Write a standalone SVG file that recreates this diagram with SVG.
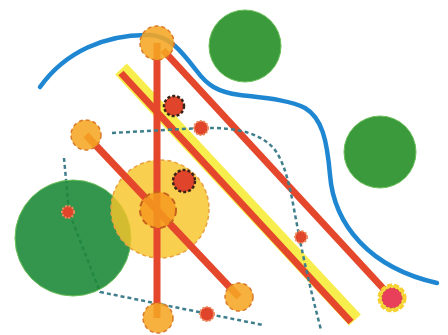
<svg xmlns="http://www.w3.org/2000/svg" width="448" height="335" viewBox="0 0 448 335">
<style>
.green{fill:#3a9a3c;stroke:#6cc05a;stroke-width:1}
.blue{fill:none;stroke:#1f87d2;stroke-width:4.5;stroke-linecap:round}
.dot{fill:none;stroke:#3f7f8c;stroke-width:2.5;stroke-dasharray:4 3}
.red{stroke:#e4472b;stroke-width:7;fill:none}
.halo{stroke:#f6ec3a;stroke-width:16;fill:none;opacity:0.9}
.node{fill:#f5a623;fill-opacity:0.88;stroke:#d9792a;stroke-width:1.5;stroke-dasharray:4 3}
.hub{fill:#f59a1f;fill-opacity:0.85;stroke:#c8601e;stroke-width:2;stroke-dasharray:6 4}
.dark{fill:#e0442a;stroke:#3a2418;stroke-width:2.5;stroke-dasharray:3 2}
.small{fill:#e0442a;stroke:#ec8a5c;stroke-width:2;stroke-dasharray:2 1.5}
</style>
<rect width="448" height="335" fill="#ffffff"/>
<g id="green-top"><circle class="green" cx="245" cy="46" r="36"/></g>
<g id="green-right"><circle class="green" cx="380" cy="152" r="36"/></g>
<g id="connectors">
<path class="blue" d="M40,87 C65,52 105,34 150,35 C170,36 182,52 196,70 C207,85 217,92 240,95 C265,98 290,100 305,108 C322,118 327,140 330,175 C334,225 370,268 437,283"/>
<path class="dot" d="M64,158 L69,212 L100,292 L263,325"/>
</g>
<g id="green-big"><circle cx="73" cy="238" r="58" fill="#1e8a3a" fill-opacity="0.9" stroke="#6cc05a" stroke-width="1"/></g>
<g id="yellow-area"><circle cx="160" cy="209" r="49" fill="#f8c52a" fill-opacity="0.82" stroke="#e8a040" stroke-width="1.5" stroke-dasharray="4 3"/></g>
<g id="lines">
<line class="halo" x1="121" y1="69" x2="355" y2="320"/>
<line class="red" x1="121" y1="73" x2="351" y2="322"/>
<line class="red" x1="157" y1="43" x2="157" y2="318"/>
<line class="red" x1="86" y1="135" x2="239" y2="297"/>
<line class="red" x1="163" y1="50" x2="392" y2="298"/>
<path class="dot" d="M112,133 L200,128 C240,127 262,134 275,150 C288,168 292,200 298,230 C304,262 312,295 321,330"/>
</g>
<g id="node-top"><circle class="node" cx="157" cy="43" r="17"/></g>
<g id="node-left"><circle class="node" cx="86" cy="135" r="15"/></g>
<g id="node-center"><circle class="hub" cx="158" cy="210" r="18"/></g>
<g id="node-bottom"><circle class="node" cx="158" cy="318" r="15"/></g>
<g id="node-small"><circle class="node" cx="239" cy="297" r="14"/></g>
<g id="dot-a"><circle class="dark" cx="174" cy="106" r="10"/></g>
<g id="dot-b"><circle class="dark" cx="184" cy="181" r="11"/></g>
<g id="dot-c"><circle class="small" cx="201" cy="128" r="7"/></g>
<g id="dot-d"><circle class="small" cx="68" cy="212" r="6"/></g>
<g id="dot-e"><circle class="small" cx="301" cy="237" r="6"/></g>
<g id="dot-f"><circle class="small" cx="207" cy="314" r="7"/></g>
<g id="dot-end">
<circle cx="392" cy="298" r="13" fill="#f6e040" stroke="#f6d030" stroke-width="3" stroke-dasharray="5 2"/>
<circle cx="392" cy="298" r="10" fill="#e8405a" stroke="#c83040" stroke-width="1" stroke-dasharray="2 2"/>
</g>
</svg>
